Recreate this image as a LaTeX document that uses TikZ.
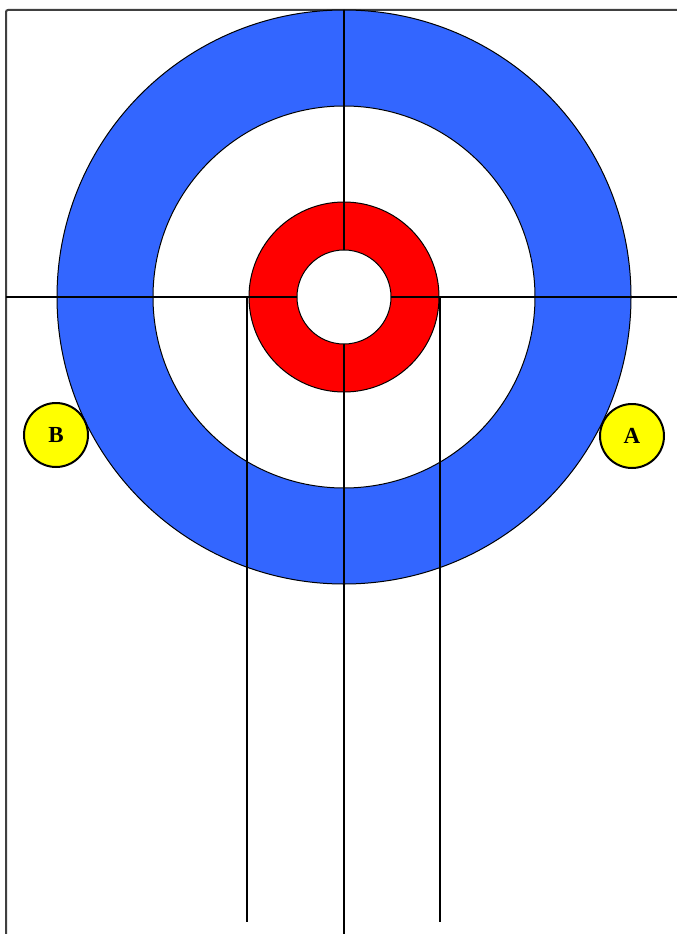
\documentclass[tikz,border=0pt]{standalone}
\usepackage{fontspec}
\setmainfont{Liberation Serif}
\definecolor{houseblue}{HTML}{3366FF}
\definecolor{housered}{HTML}{FF0000}
\definecolor{stoneyellow}{HTML}{FFFF00}
\tikzset{
  ring/.style={draw=black, line width=1pt},
  guide/.style={draw=black, line width=1.3pt},
  frameline/.style={draw=black!75, line width=2pt},
  stone/.style={circle, draw=black, line width=2pt, fill=stoneyellow, minimum size=64pt, inner sep=0pt, font=\fontsize{23}{23}\selectfont\bfseries}
}
\begin{document}
\begin{tikzpicture}[x=1pt,y=-1pt]
\useasboundingbox (0,0) rectangle (677,934);
\fill[white] (0,0) rectangle (677,934);
% frame
\draw[frameline] (677,10) -- (8,10) to[out=180,in=90] (6,12) -- (6,934);
\coordinate (c) at (344,297);
% house
\fill[houseblue,ring] (c) circle[radius=287];
\fill[white,ring] (c) circle[radius=191];
\fill[housered,ring] (c) circle[radius=95];
% guide lines
\coordinate (hl) at (6,297);
\coordinate (hr) at (677,297);
\coordinate (vt) at (344,10);
\coordinate (vb) at (344,934);
\coordinate (lt) at (247,297);
\coordinate (lb) at (247,922);
\coordinate (rt) at (440,297);
\coordinate (rb) at (440,922);
\draw[guide] (hl) -- (hr);
\draw[guide] (vt) -- (vb);
\draw[guide] (lt) -- (lb);
\draw[guide] (rt) -- (rb);
% button
\fill[white,ring] (c) circle[radius=47];
% stones
\node[stone] (B) at (56,435) {B};
\node[stone] (A) at (632,436) {A};
\end{tikzpicture}
\end{document}
